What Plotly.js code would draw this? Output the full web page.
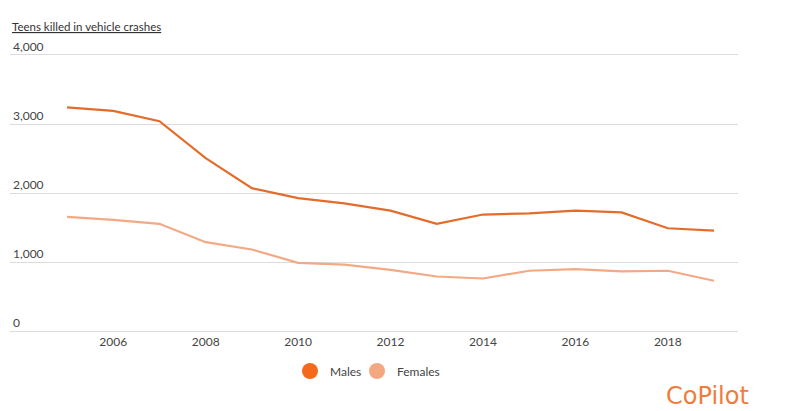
<!DOCTYPE html>
<html>
<head>
<meta charset="utf-8">
<script src="https://cdn.plot.ly/plotly-3.0.1.min.js"></script>
<style>html,body{margin:0;padding:0;background:#fff;}#chart{width:800px;height:411px;}</style>
</head>
<body>
<div id="chart"></div>
<script>
const years = [2005,2006,2007,2008,2009,2010,2011,2012,2013,2014,2015,2016,2017,2018,2019];
const males = [3240,3190,3040,2505,2070,1925,1850,1745,1553,1688,1705,1745,1718,1489,1456];
const females = [1655,1610,1553,1287,1181,988,962,885,790,761,873,898,863,873,728];
const yTicks = [0,1000,2000,3000,4000];
const yTickText = ['0','1,000','2,000','3,000','4,000'];
const xTicks = [2006,2008,2010,2012,2014,2016,2018];

const maleLine = '#E46C2A', femaleLine = '#F2A985';
const maleDot = '#F5691C', femaleDot = '#F4A882';

const data = [
  {x: years, y: males, type:'scatter', mode:'lines', line:{color:maleLine, width:2.2}, showlegend:false, name:'Males'},
  {x: years, y: females, type:'scatter', mode:'lines', line:{color:femaleLine, width:2.2}, showlegend:false, name:'Females'},
  {x:[null], y:[null], type:'scatter', mode:'markers', marker:{color:maleDot, size:16}, name:'Males', legend:'legend'},
  {x:[null], y:[null], type:'scatter', mode:'markers', marker:{color:femaleDot, size:16}, name:'Females', legend:'legend2'}
];

const legendBase = {orientation:'h', xanchor:'left', y:-0.145, yanchor:'middle',
  font:{size:12, color:'#444'}, itemsizing:'trace', bgcolor:'rgba(0,0,0,0)'};

const layout = {
  width:800, height:411,
  margin:{l:10, r:62, t:55, b:80},
  paper_bgcolor:'#fff', plot_bgcolor:'#fff',
  font:{family:'Lato, "Open Sans", sans-serif', size:12, color:'#444'},
  xaxis:{
    range:[2003.766, 2019.519],
    tickvals:xTicks, ticktext:xTicks.map(String),
    showgrid:false, zeroline:false, showline:true, mirror:true,
    linecolor:'#dcdcdc', linewidth:1, ticks:'',
    tickfont:{size:12, color:'#444'}
  },
  yaxis:{
    range:[0,4000],
    tickvals:yTicks, ticktext:yTickText,
    ticklabelposition:'inside top', ticklabeloverflow:'allow',
    showgrid:true, gridcolor:'#dcdcdc', gridwidth:1,
    zeroline:false, showline:false, ticks:'',
    tickfont:{size:12, color:'#444'}
  },
  showlegend:true,
  legend:Object.assign({}, legendBase, {x:(290-10)/728}),
  legend2:Object.assign({}, legendBase, {x:(357-10)/728}),
  annotations:[
    {xref:'paper', yref:'paper', x:0, y:1, xanchor:'left', yanchor:'bottom', yshift:20,
     text:'<u>Teens killed in vehicle crashes</u>', showarrow:false,
     font:{size:11.5, color:'#333'}},
    {xref:'paper', yref:'paper', x:1.0179, y:-0.236, xanchor:'right', yanchor:'middle',
     text:'CoPilot', showarrow:false,
     font:{size:24, color:'#F07C3C', family:'"DejaVu Sans", sans-serif'}}
  ]
};

Plotly.newPlot('chart', data, layout, {displayModeBar:false, staticPlot:true});
</script>
</body>
</html>
